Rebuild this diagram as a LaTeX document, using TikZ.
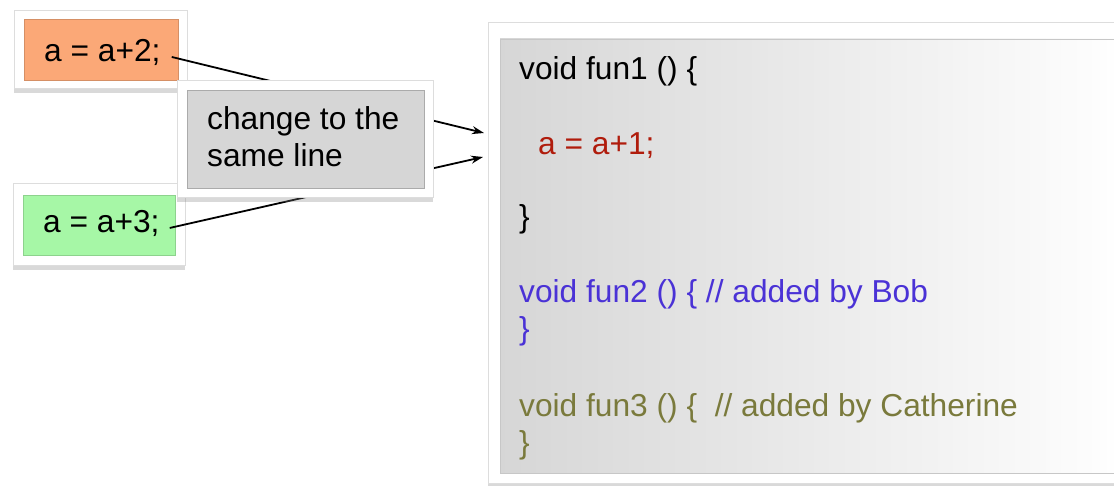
\documentclass[tikz,border=0pt]{standalone}
\usepackage{fontspec}
\setmainfont{Liberation Sans}
\usetikzlibrary{shadows,arrows.meta}
\definecolor{orangefill}{HTML}{FBA877}
\definecolor{greenfill}{HTML}{A6F7A6}
\definecolor{grayfill}{HTML}{D6D6D6}
\definecolor{codered}{HTML}{B01C0C}
\definecolor{codeblue}{HTML}{4A32D6}
\definecolor{codeolive}{HTML}{7A7A3C}
\definecolor{framegray}{HTML}{DDDDDD}
\tikzset{
  frame/.style={draw=framegray, line width=0.8pt, fill=white,
    drop shadow={opacity=0.3, shadow xshift=0pt, shadow yshift=-5pt, fill=gray}},
  inner/.style={line width=0.6pt},
  txt/.style={font=\fontsize{31.7}{36}\selectfont, inner sep=0pt, anchor=base west},
  conn/.style={line width=1.8pt, -{Stealth[length=12pt,width=8pt]}},
}
\begin{document}
\begin{tikzpicture}[x=1pt,y=-1pt]
\useasboundingbox (0,0) rectangle (1114,486);
\clip (0,0) rectangle (1114,486);
% orange box
\draw[frame] (14,10) rectangle (187,88);
\draw[inner, fill=orangefill, draw=orangefill!85!black] (24,19) rectangle (178,80);
\node[txt] (a2) at (44,62) {a = a+2;};
% green box
\draw[frame] (13,183) rectangle (185,265);
\draw[inner, fill=greenfill, draw=greenfill!85!black] (23,195) rectangle (175,255);
\node[txt] (a3) at (43,233) {a = a+3;};
% arrow targets
\coordinate (t1) at (484,133);
\coordinate (t2) at (483,157);
\draw[conn] ([xshift=11pt,yshift=-4pt]a2.east) -- (t1);
\draw[conn] ([xshift=10pt,yshift=-4pt]a3.east) -- (t2);
% gray box
\draw[frame] (177,80) rectangle (433,197);
\draw[inner, fill=grayfill, draw=grayfill!80!black] (187,90) rectangle (424,188);
\node[txt] (c1) at (207,130) {change to the};
\node[txt] (c2) at (207,167) {same line};
% code box
\draw[frame] (488,22) rectangle (1130,483);
\shade[left color=black!16, right color=white, draw=black!22, line width=0.8pt] (500,39) rectangle (1130,473);
\node[txt] (l1) at (519,80) {void fun1 () \{};
\node[txt, text=codered] (l2) at (538,155) {a = a+1;};
\node[txt] (l3) at (519,228) {\}};
\node[txt, text=codeblue] (l4) at (519,303) {void fun2 () \{ // added by Bob};
\node[txt, text=codeblue] (l5) at (519,340) {\}};
\node[txt, text=codeolive] (l6) at (519,416) {void fun3 () \{ \ // added by Catherine};
\node[txt, text=codeolive] (l7) at (519,453) {\}};
\end{tikzpicture}
\end{document}
